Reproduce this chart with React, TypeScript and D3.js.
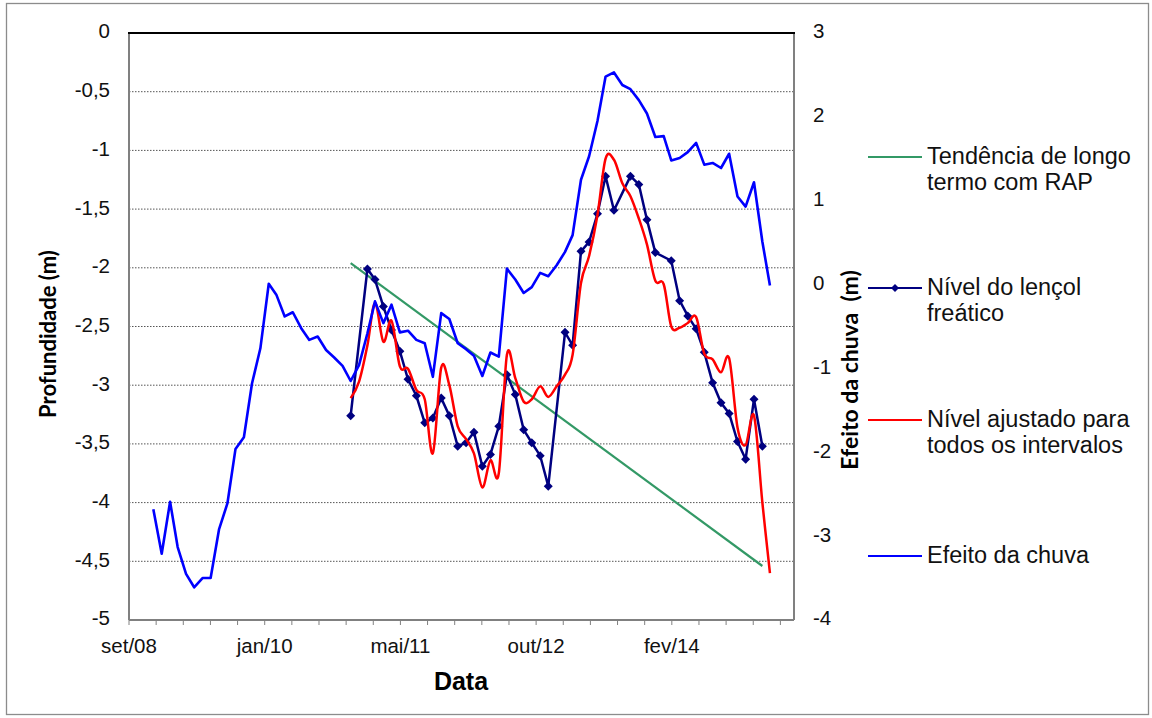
import React from "react";
import * as d3 from "d3";

// ---- data ----
const seriesStart = new Date(2008, 11, 1); // first monthly observation
const xDomain = [new Date(2008, 8, 2), new Date(2015, 4, 29)];
const xTickLabels = ["set/08", "jan/10", "mai/11", "out/12", "fev/14"];
const leftTicks = [0, -0.5, -1, -1.5, -2, -2.5, -3, -3.5, -4, -4.5, -5];
const rightTicks = [3, 2, 1, 0, -1, -2, -3, -4];

// Efeito da chuva (right axis), monthly
const rainEffect = [
  -2.68, -3.21, -2.59, -3.13, -3.45, -3.61, -3.5, -3.5, -2.92, -2.61,
  -1.96, -1.82, -1.18, -0.76, 0.01, -0.12, -0.38, -0.33, -0.52, -0.66,
  -0.62, -0.78, -0.87, -0.97, -1.15, -0.96, -0.58, -0.2, -0.46, -0.24,
  -0.57, -0.55, -0.66, -0.7, -1.1, -0.34, -0.41, -0.7, -0.77, -0.85,
  -1.09, -0.81, -0.86, 0.19, 0.06, -0.1, -0.03, 0.14, 0.1, 0.23,
  0.39, 0.59, 1.25, 1.53, 1.95, 2.48, 2.53, 2.38, 2.33, 2.2,
  2.04, 1.76, 1.77, 1.48, 1.51, 1.58, 1.69, 1.43, 1.45, 1.39,
  1.56, 1.05, 0.93, 1.22, 0.51, -0.01,
];

// Nível do lençol freático (left axis), starts at month index 24
const waterStart = 24;
const waterLevel = [
  -3.26, null, -2.01, -2.1, -2.33, -2.53, -2.71, -2.95, -3.09, -3.32,
  -3.28, -3.11, -3.26, -3.52, -3.49, -3.4, -3.69, -3.59, -3.35, -2.91,
  -3.08, -3.38, -3.49, -3.6, -3.86, null, -2.55, -2.66, -1.86, -1.78,
  -1.54, -1.22, -1.51, null, -1.22, -1.29, -1.59, -1.87, null, -1.94,
  -2.28, -2.41, -2.52, -2.72, -2.98, -3.15, -3.24, -3.48, -3.63, -3.12,
  -3.52,
];

// Nível ajustado para todos os intervalos (left axis), starts at month index 24
const fittedStart = 24;
const fittedLevel = [
  -3.11, -2.97, -2.66, -2.3, -2.63, -2.45, -2.84, -2.86, -3.04, -3.12,
  -3.58, -2.85, -3.0, -3.35, -3.46, -3.58, -3.87, -3.64, -3.75, -2.74,
  -2.94, -3.14, -3.12, -3.01, -3.1, -3.01, -2.91, -2.74, -2.13, -1.9,
  -1.55, -1.07, -1.08, -1.28, -1.39, -1.58, -1.8, -2.11, -2.14, -2.5,
  -2.51, -2.47, -2.42, -2.73, -2.78, -2.89, -2.77, -3.36, -3.51, -3.26,
  -4.0, -4.6,
];

// Tendência de longo termo com RAP (left axis): straight line
const trendIndex = [24, 74];
const trendLevel = [-1.96, -4.54];

const legendItems = [
  { key: "trend", color: "#339966", lines: ["Tendência de longo", "termo com RAP"], marker: false },
  { key: "water", color: "#000080", lines: ["Nível do lençol", "freático"], marker: true },
  { key: "fitted", color: "#FF0000", lines: ["Nível ajustado para", "todos os intervalos"], marker: false },
  { key: "rain", color: "#0000FF", lines: ["Efeito da chuva"], marker: false },
];

const W = 1152;
const H = 718;
const M = { left: 129, right: 794, top: 33, bottom: 620 };
const FONT = "'Liberation Sans', Arial, sans-serif";
const TITLE_FONT = "Lato, 'Open Sans', sans-serif";

const monthDate = (i: number) => d3.timeMonth.offset(seriesStart, i);

export default function App() {
  const x = d3.scaleTime().domain(xDomain).range([M.left, M.right]);
  const yL = d3.scaleLinear().domain([-5, 0]).range([M.bottom, M.top]);
  const yR = d3.scaleLinear().domain([-4, 3]).range([M.bottom, M.top]);

  const minorStepMs = 100.4 * 864e5;
  const xTicks = d3.range(0, 25).map((k) => new Date(xDomain[0].getTime() + k * minorStepMs));

  const rainPts = rainEffect.map((v, i) => [x(monthDate(i)), yR(v)] as [number, number]);
  const waterPts = waterLevel
    .map((v, i) => (v == null ? null : ([x(monthDate(waterStart + i)), yL(v)] as [number, number])))
    .filter((p) => p != null) as [number, number][];
  const fittedPts = fittedLevel.map((v, i) => [x(monthDate(fittedStart + i)), yL(v)] as [number, number]);
  const trendPts = trendLevel.map((v, i) => [x(monthDate(trendIndex[i])), yL(v)] as [number, number]);

  const line = d3.line<[number, number]>();
  const smooth = d3.line<[number, number]>().curve(d3.curveCardinal.tension(0));
  const diamond = (cx: number, cy: number, r: number) =>
    `M${cx},${cy - r}L${cx + r},${cy}L${cx},${cy + r}L${cx - r},${cy}Z`;

  const legendY: Record<string, number> = { trend: 157, water: 288, fitted: 420, rain: 556 };
  const lineGap = 26;

  return (
    <svg
      width={W}
      height={H}
      style={{ position: "absolute", left: 0, top: 0, background: "#fff" }}
      fontFamily={FONT}
    >
      <rect x={0} y={0} width={W} height={H} fill="#fff" />
      <rect x={6.5} y={3.5} width={1142} height={711} fill="none" stroke="#8c8c8c" strokeWidth={1.3} />

      {/* grid lines */}
      {leftTicks
        .filter((t) => t !== 0 && t !== -5)
        .map((t) => (
          <line
            key={"g" + t}
            x1={M.left}
            x2={M.right}
            y1={yL(t)}
            y2={yL(t)}
            stroke="#555"
            strokeWidth={1}
            strokeDasharray="1.5,1.5"
          />
        ))}

      {/* axes frame */}
      <line x1={M.left} x2={M.left} y1={M.top} y2={M.bottom} stroke="#808080" strokeWidth={2} />
      <line x1={M.right} x2={M.right} y1={M.top} y2={M.bottom} stroke="#808080" strokeWidth={2} />
      <line x1={M.left} x2={M.right} y1={M.bottom} y2={M.bottom} stroke="#808080" strokeWidth={2} />
      <line x1={M.left - 1} x2={M.right + 1} y1={yL(0)} y2={yL(0)} stroke="#000" strokeWidth={2} />

      {/* x ticks */}
      {xTicks.map((d, k) => (
        <line key={"xt" + k} x1={x(d)} x2={x(d)} y1={M.bottom} y2={M.bottom + 5} stroke="#808080" strokeWidth={1} />
      ))}
      {xTicks
        .filter((_, k) => k % 5 === 0)
        .map((d, k) => (
          <text key={"xl" + k} x={x(d)} y={648} fontSize={20.5} textAnchor="middle" dominantBaseline="middle" fill="#111">
            {xTickLabels[k]}
          </text>
        ))}

      {/* left ticks */}
      {leftTicks.map((t) => (
        <text key={"yl" + t} x={110} y={yL(t)} fontSize={20.5} textAnchor="end" dominantBaseline="middle" fill="#111">
          {String(t).replace(".", ",")}
        </text>
      ))}
      {/* right ticks */}
      {rightTicks.map((t) => (
        <text key={"yr" + t} x={813} y={yR(t)} fontSize={20.5} textAnchor="start" dominantBaseline="middle" fill="#111">
          {String(t)}
        </text>
      ))}

      {/* series */}
      <path d={line(trendPts) || ""} fill="none" stroke="#339966" strokeWidth={2.2} />
      <path d={line(waterPts) || ""} fill="none" stroke="#000080" strokeWidth={2.5} />
      {waterPts.map((p, i) => (
        <path key={"m" + i} d={diamond(p[0], p[1], 4.5)} fill="#000080" />
      ))}
      <path d={smooth(fittedPts) || ""} fill="none" stroke="#FF0000" strokeWidth={2.5} />
      <path d={line(rainPts) || ""} fill="none" stroke="#0000FF" strokeWidth={2.6} strokeLinejoin="round" />

      {/* axis titles */}
      <text
        transform={`translate(50,334) rotate(-90)`}
        fontFamily={TITLE_FONT}
        fontWeight="bold"
        fontSize={22}
        textAnchor="middle"
        dominantBaseline="middle"
      >
        Profundidade (m)
      </text>
      <text
        transform={`translate(852,370) rotate(-90)`}
        fontFamily={TITLE_FONT}
        fontWeight="bold"
        fontSize={23}
        textAnchor="middle"
        dominantBaseline="middle"
        style={{ whiteSpace: "pre" }}
      >
        {"Efeito da chuva  (m)"}
      </text>
      <text x={461} y={683} fontSize={25} fontWeight="bold" textAnchor="middle" dominantBaseline="middle">
        Data
      </text>

      {/* legend */}
      {legendItems.map((it) => {
        const ly = legendY[it.key];
        return (
          <g key={it.key}>
            <line x1={868} x2={922} y1={ly} y2={ly} stroke={it.color} strokeWidth={2.2} />
            {it.marker && <path d={diamond(895, ly, 4)} fill={it.color} />}
            {it.lines.map((s, j) => (
              <text key={j} x={927} y={ly + 1 + j * lineGap} fontSize={23.5} dominantBaseline="middle" fill="#111">
                {s}
              </text>
            ))}
          </g>
        );
      })}
    </svg>
  );
}
